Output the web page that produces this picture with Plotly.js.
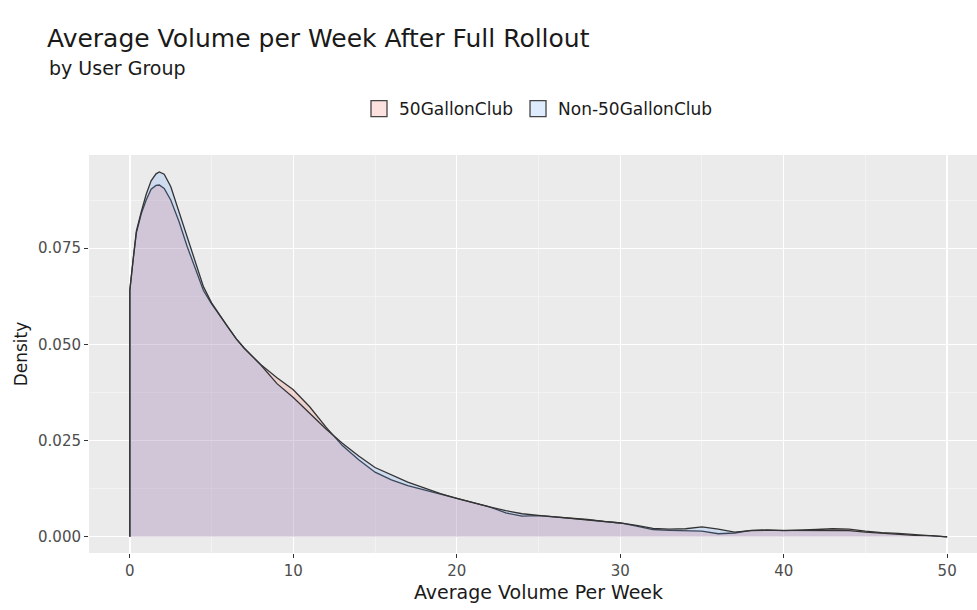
<!DOCTYPE html>
<html>
<head>
<meta charset="utf-8">
<script src="https://cdn.plot.ly/plotly-3.0.1.min.js"></script>
<style>
html,body{margin:0;padding:0;overflow:hidden;background:#fff;}
#chart{width:990px;height:610px;}
</style>
</head>
<body>
<div id="chart"></div>
<script>
// Data
const groups = ["50GallonClub", "Non-50GallonClub"];
const volume = [0, 0.2, 0.4, 0.7, 1.0, 1.3, 1.6, 1.8, 2.1, 2.5, 3.0, 3.5, 4.0, 4.5, 5.0, 5.5, 6.0, 6.5, 7.0, 8.0, 9.0, 10.0, 11.0, 12.0, 13.0, 14.0, 15.0, 16.0, 17.0, 18.0, 19.0, 20.0, 21.0, 22.0, 23.0, 24.0, 25.0, 26.0, 27.0, 28.0, 29.0, 30.0, 31.0, 32.0, 33.0, 34.0, 35.0, 36.0, 37.0, 38.0, 39.0, 40.0, 41.0, 42.0, 43.0, 44.0, 45.0, 46.0, 47.0, 48.0, 49.0, 50.0];
const density50 = [0.0641, 0.072, 0.079, 0.084, 0.0875, 0.0903, 0.0913, 0.0914, 0.0905, 0.0875, 0.082, 0.0755, 0.0695, 0.064, 0.0605, 0.0575, 0.0545, 0.0515, 0.049, 0.0448, 0.0413, 0.0382, 0.0338, 0.0285, 0.0237, 0.0200, 0.0168, 0.0148, 0.0133, 0.0122, 0.0110, 0.0100, 0.0090, 0.0078, 0.0062, 0.0054, 0.0055, 0.0052, 0.0049, 0.0045, 0.0040, 0.0036, 0.0028, 0.0019, 0.0017, 0.0016, 0.0015, 0.0008, 0.0010, 0.0017, 0.0018, 0.0016, 0.0017, 0.0019, 0.0021, 0.0020, 0.0015, 0.0011, 0.0009, 0.0006, 0.0003, 0.0001];
const densityNon = [0.0641, 0.072, 0.0795, 0.0845, 0.089, 0.0925, 0.0943, 0.0948, 0.0942, 0.091, 0.0845, 0.0775, 0.071, 0.065, 0.0608, 0.0575, 0.0545, 0.0515, 0.049, 0.0447, 0.0398, 0.0362, 0.032, 0.028, 0.0243, 0.021, 0.018, 0.0161, 0.0142, 0.0127, 0.0112, 0.0100, 0.0088, 0.0078, 0.0068, 0.0060, 0.0056, 0.0052, 0.0049, 0.0045, 0.0040, 0.0036, 0.0030, 0.0022, 0.0020, 0.0021, 0.0026, 0.0020, 0.0012, 0.0016, 0.0017, 0.0017, 0.0017, 0.0017, 0.0017, 0.0016, 0.0012, 0.0009, 0.0006, 0.0004, 0.0003, 0.0001];
const xTicks = [0, 10, 20, 30, 40, 50];
const yTicks = [0, 0.025, 0.05, 0.075];
const yTickLabels = ["0.000", "0.025", "0.050", "0.075"];

const fills = ["rgba(248,118,109,0.22)", "rgba(97,156,255,0.2)"];
const outline = "#333333";

function polygon(xs, ys) {
  // closed density outline: start at baseline, follow curve, return along baseline
  const px = [xs[0]].concat(xs, [xs[xs.length - 1]]);
  const py = [0].concat(ys, [0]);
  return {x: px, y: py};
}

const series = [density50, densityNon];
const traces = [];
series.forEach((ys, i) => {
  const p = polygon(volume, ys);
  traces.push({
    type: "scatter", mode: "lines", x: p.x, y: p.y,
    fill: "toself", fillcolor: fills[i],
    line: {color: outline, width: 1.3},
    name: groups[i], showlegend: false, hoverinfo: "skip"
  });
});
groups.forEach((g, i) => {
  traces.push({
    type: "scatter", mode: "markers", x: [null], y: [null], name: g,
    marker: {symbol: "square", size: 16, color: fills[i], line: {color: "#444", width: 1.3}},
    showlegend: true
  });
});

const font = "DejaVu Sans, Arial, sans-serif";
const layout = {
  width: 990, height: 610,
  margin: {l: 89, r: 2, t: 155, b: 57},
  paper_bgcolor: "#ffffff", plot_bgcolor: "#ebebeb",
  font: {family: font, color: "#4d4d4d", size: 15},
  title: {
    text: "Average Volume per Week After Full Rollout",
    x: 47 / 990, xanchor: "left", xref: "container",
    y: 1 - 38 / 610, yanchor: "middle", yref: "container",
    font: {family: font, size: 25, color: "#1a1a1a"}
  },
  annotations: [{
    text: "by User Group", xref: "paper", yref: "paper",
    x: (47 - 89) / 899, y: (553 - 68) / 398, xanchor: "left", yanchor: "middle",
    showarrow: false, font: {family: font, size: 19, color: "#1a1a1a"}
  }],
  legend: {
    orientation: "h", x: 0.5, xanchor: "center", y: (553 - 109) / 398, yanchor: "middle",
    font: {family: font, size: 17, color: "#1a1a1a"}, bgcolor: "rgba(0,0,0,0)",
    itemsizing: "trace", itemwidth: 30
  },
  xaxis: {
    range: [-2.5, 52.5], tickvals: xTicks, ticktext: xTicks.map(String),
    showgrid: true, gridcolor: "#ffffff", gridwidth: 1.3, zeroline: false,
    ticks: "outside", ticklen: 4, tickcolor: "#333333", tickwidth: 1,
    tickfont: {size: 15, color: "#4d4d4d"},
    minor: {dtick: 5, tick0: 5, showgrid: true, gridcolor: "#f6f6f6", gridwidth: 0.7, ticks: ""},
    showline: false,
    title: {text: "Average Volume Per Week", font: {size: 19, color: "#1a1a1a"}, standoff: 6}
  },
  yaxis: {
    range: [-0.0042, 0.0992], tickvals: yTicks, ticktext: yTickLabels,
    showgrid: true, gridcolor: "#ffffff", gridwidth: 1.3, zeroline: false,
    ticks: "outside", ticklen: 4, tickcolor: "#333333", tickwidth: 1,
    tickfont: {size: 15, color: "#4d4d4d"},
    minor: {dtick: 0.0125, tick0: 0.0125, showgrid: true, gridcolor: "#f6f6f6", gridwidth: 0.7, ticks: ""},
    showline: false,
    title: {text: "Density", font: {size: 17, color: "#1a1a1a"}, standoff: 6}
  }
};

Plotly.newPlot("chart", traces, layout, {displayModeBar: false, staticPlot: true});
</script>
</body>
</html>
